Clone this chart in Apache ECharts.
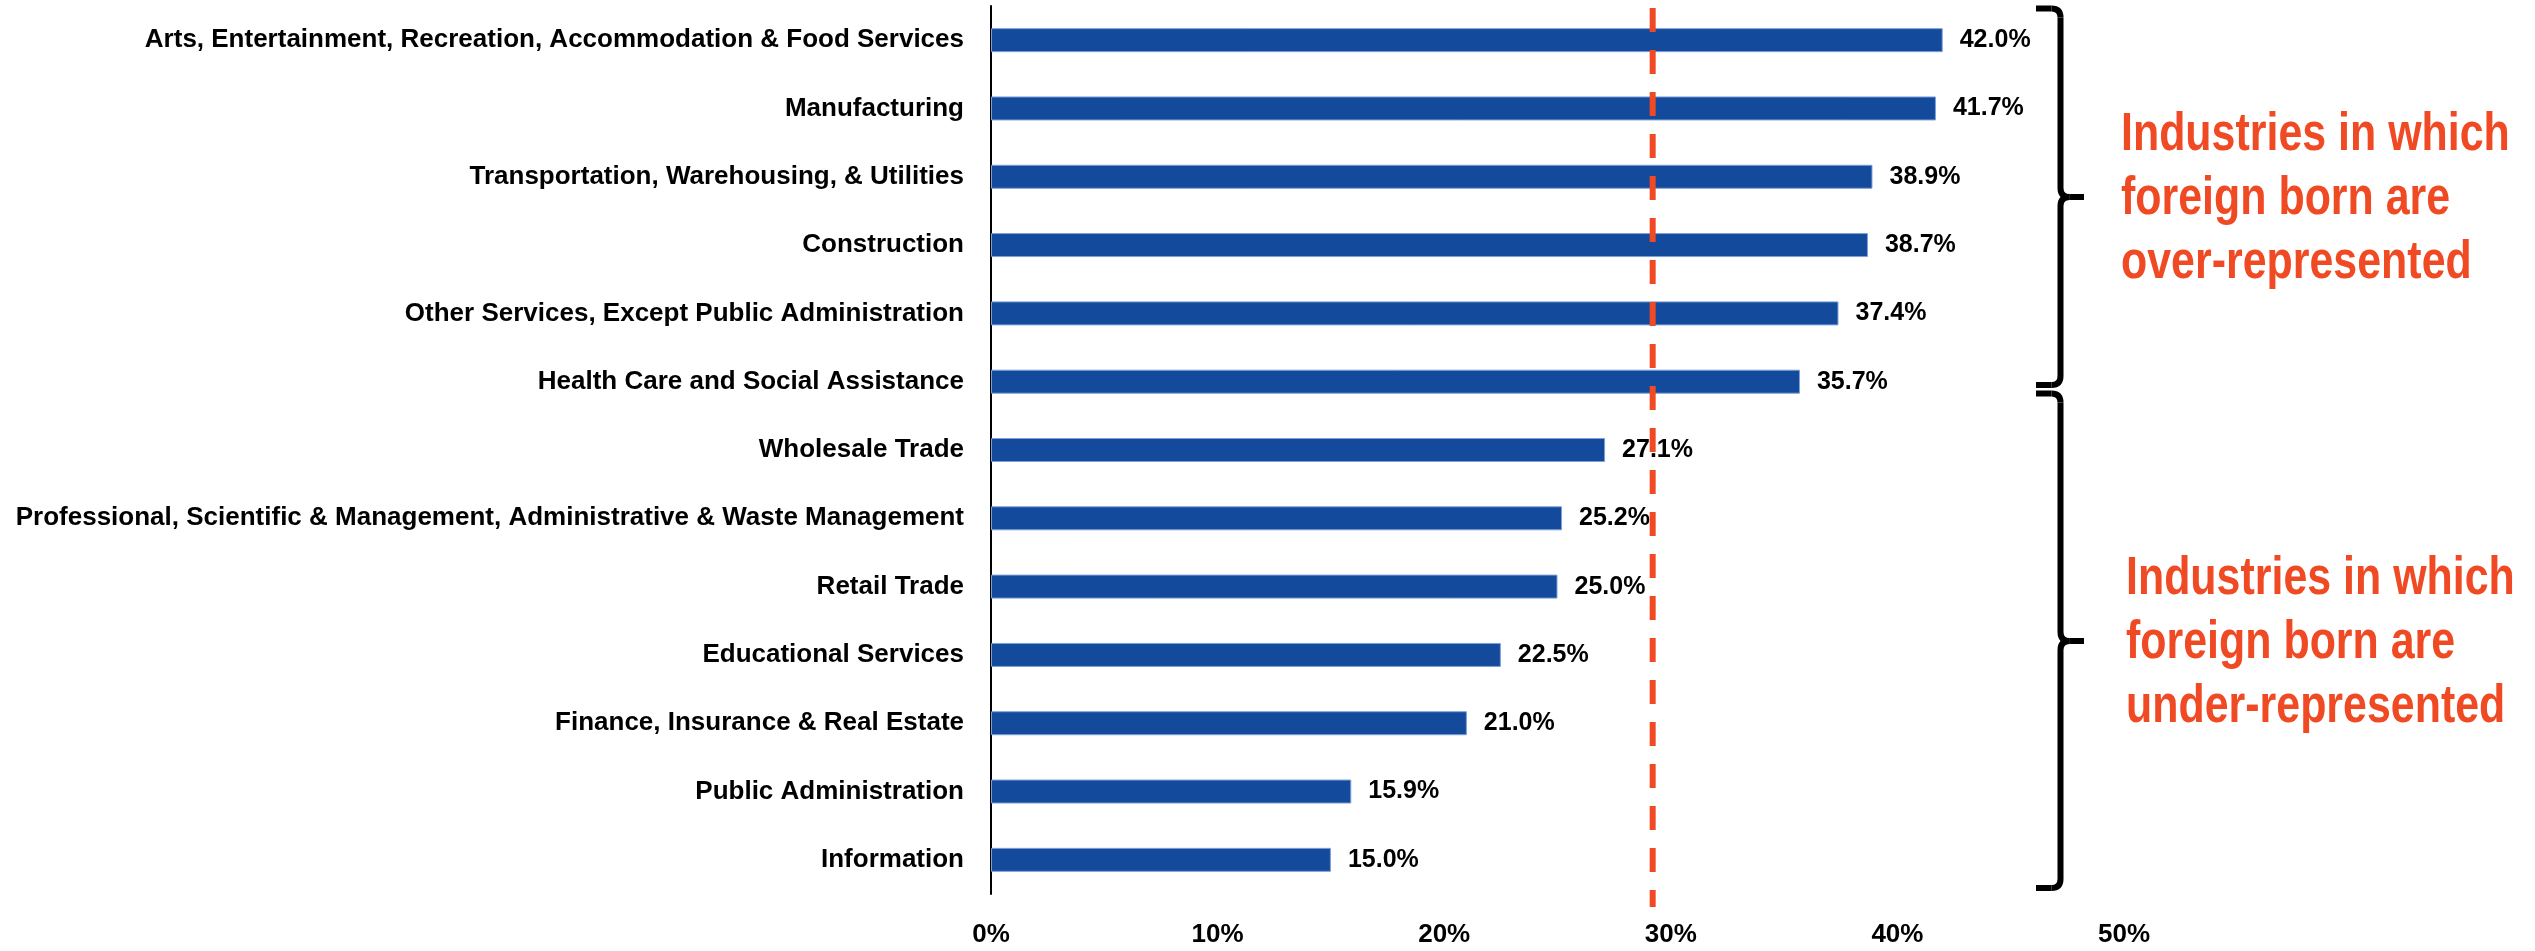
<!DOCTYPE html>
<html>
<head>
<meta charset="utf-8">
<script src="https://cdn.jsdelivr.net/npm/echarts@6/dist/echarts.min.js"></script>
<style>
  html, body { margin: 0; padding: 0; background: #ffffff; }
  #main { width: 2535px; height: 951px; }
</style>
</head>
<body>
<div id="main"></div>
<script>
// ---- data ----
const categories = [
  'Arts, Entertainment, Recreation, Accommodation & Food Services',
  'Manufacturing',
  'Transportation, Warehousing, & Utilities',
  'Construction',
  'Other Services, Except Public Administration',
  'Health Care and Social Assistance',
  'Wholesale Trade',
  'Professional, Scientific & Management, Administrative & Waste Management',
  'Retail Trade',
  'Educational Services',
  'Finance, Insurance & Real Estate',
  'Public Administration',
  'Information'
];
const values = [42.0, 41.7, 38.9, 38.7, 37.4, 35.7, 27.1, 25.2, 25.0, 22.5, 21.0, 15.9, 15.0];
const referenceValue = 29.2;
const axisMin = 0, axisMax = 50, axisStep = 10;
const overText = ['Industries in which', 'foreign born are', 'over-represented'];
const underText = ['Industries in which', 'foreign born are', 'under-represented'];

// ---- font detection ----
function hasFont(name) {
  const ctx = document.createElement('canvas').getContext('2d');
  const t = 'Industries in which 10%';
  ctx.font = 'bold 50px monospace';
  const w1 = ctx.measureText(t).width;
  ctx.font = "bold 50px '" + name + "', monospace";
  const w2 = ctx.measureText(t).width;
  return Math.abs(w1 - w2) > 0.5;
}
const narrow = hasFont('Liberation Sans Narrow');
const baseFont = "'Liberation Sans', Arial, sans-serif";
const narrowFont = narrow ? "'Liberation Sans Narrow', 'Liberation Sans', Arial, sans-serif" : baseFont;

const RED = '#F04A24';

const chart = echarts.init(document.getElementById('main'), null, { renderer: 'canvas' });
const option = {
  animation: false,
  backgroundColor: '#ffffff',
  grid: { left: 991, right: 411, top: 6, bottom: 57, containLabel: false },
  xAxis: {
    type: 'value', min: axisMin, max: axisMax, interval: axisStep,
    axisLine: { show: false }, axisTick: { show: false }, splitLine: { show: false },
    axisLabel: {
      formatter: v => v + '%',
      fontSize: narrow ? 30 : 26, fontWeight: 'bold', color: '#000',
      fontFamily: narrowFont, margin: 28
    }
  },
  yAxis: {
    type: 'category', data: categories, inverse: true,
    axisLine: { show: true, lineStyle: { color: '#000', width: 2 } },
    axisTick: { show: false },
    axisLabel: { fontSize: 26, fontWeight: 'bold', color: '#000', fontFamily: baseFont, margin: 27 }
  },
  series: [{
    type: 'bar', data: values, barWidth: 24,
    itemStyle: { color: '#134A9C', borderColor: '#7E9FD8', borderWidth: 1 },
    label: {
      show: true, position: 'right', distance: 17,
      formatter: p => p.value.toFixed(1) + '%',
      fontSize: 25, fontWeight: 'bold', color: '#000', fontFamily: baseFont
    }
  }]
};
chart.setOption(option);

// ---- annotations ----
const refX = chart.convertToPixel({ xAxisIndex: 0 }, referenceValue);
const bx = 2060.5, bl = 2036, tipX = 2084, r = 9;
function brace(top, mid, bottom) {
  const st = { stroke: '#000', lineWidth: 6, fill: null };
  return [
    { type: 'polyline', z: 50, shape: { points: [[bl, top], [bx - r, top]] }, style: st },
    { type: 'bezierCurve', z: 50, shape: { x1: bx - r, y1: top, x2: bx, y2: top + r, cpx1: bx, cpy1: top }, style: st },
    { type: 'polyline', z: 50, shape: { points: [[bx, top + r], [bx, mid - r]] }, style: st },
    { type: 'bezierCurve', z: 50, shape: { x1: bx, y1: mid - r, x2: bx + r, y2: mid, cpx1: bx, cpy1: mid }, style: st },
    { type: 'polyline', z: 50, shape: { points: [[bx + r, mid], [tipX, mid]] }, style: st },
    { type: 'bezierCurve', z: 50, shape: { x1: bx + r, y1: mid, x2: bx, y2: mid + r, cpx1: bx, cpy1: mid }, style: st },
    { type: 'polyline', z: 50, shape: { points: [[bx, mid + r], [bx, bottom - r]] }, style: st },
    { type: 'bezierCurve', z: 50, shape: { x1: bx, y1: bottom - r, x2: bx - r, y2: bottom, cpx1: bx, cpy1: bottom }, style: st },
    { type: 'polyline', z: 50, shape: { points: [[bx - r, bottom], [bl, bottom]] }, style: st }
  ];
}
function note(lines, x, y) {
  return {
    type: 'text', z: 60, x: x, y: y, scaleX: narrow ? 1 : 0.81, scaleY: 1,
    style: {
      text: lines.join('\n'), fill: RED,
      fontSize: 53, fontWeight: 'bold', fontFamily: narrowFont,
      lineHeight: 64, align: 'left', verticalAlign: 'middle'
    }
  };
}
const graphics = [
  {
    type: 'line', z: 100,
    shape: { x1: refX, y1: 8, x2: refX, y2: 907 },
    style: { stroke: RED, lineWidth: 6, lineDash: [24, 18] }
  },
  ...brace(8.5, 197, 385),
  ...brace(393.5, 641, 888),
  note(overText, 2121, 199),
  note(underText, 2126, 643)
];
chart.setOption({ graphic: graphics });
</script>
</body>
</html>
